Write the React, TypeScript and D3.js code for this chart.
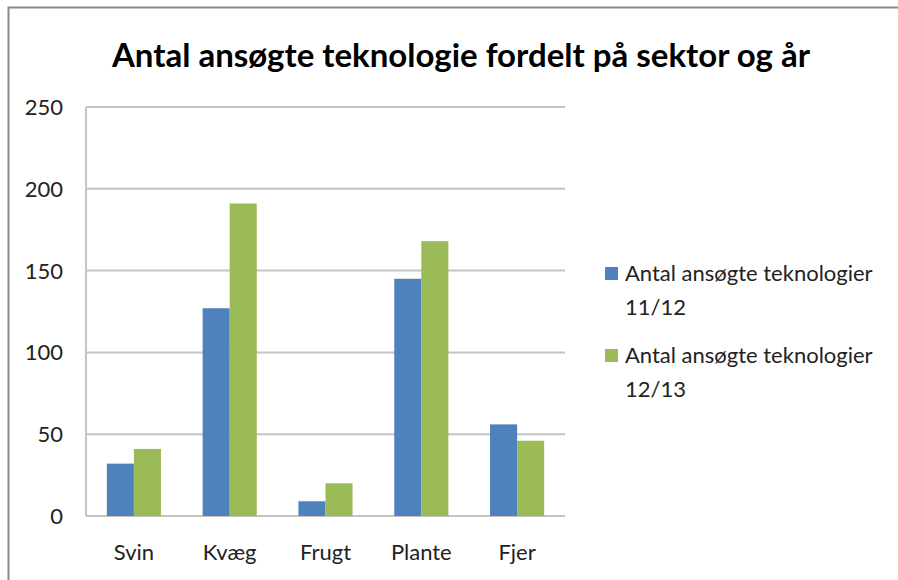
import React, { useRef, useEffect } from "react";
import * as d3 from "d3";

const categories = ["Svin", "Kvæg", "Frugt", "Plante", "Fjer"];
const seriesNames = ["Antal ansøgte teknologier 11/12", "Antal ansøgte teknologier 12/13"];
const values1112 = [32, 127, 9, 145, 56];
const values1213 = [41, 191, 20, 168, 46];
const yTicks = [0, 50, 100, 150, 200, 250];
const colors = ["#4f81bd", "#9bbb59"];

const App: React.FC = () => {
  const svg = useRef<SVGSVGElement>(null);
  const width = 898;
  const height = 580;
  const margin = { left: 86, top: 107, right: 333, bottom: 64 };

  useEffect(() => {
    const root = d3.select(svg.current);
    root.selectAll("*").remove();
    const font = "Lato, 'Open Sans', sans-serif";

    root.append("rect").attr("width", width).attr("height", height).attr("fill", "#fff");
    // chart frame
    root
      .append("path")
      .attr("d", `M8.5,${height} V7.5 H${width}`)
      .attr("fill", "none")
      .attr("stroke", "#8a8a8a")
      .attr("stroke-width", 2);

    root
      .append("text")
      .attr("x", 461)
      .attr("y", 67)
      .attr("text-anchor", "middle")
      .attr("font-family", font)
      .attr("font-weight", "bold")
      .attr("font-size", 33)
      .attr("fill", "#000")
      .text("Antal ansøgte teknologie fordelt på sektor og år");

    const innerW = width - margin.left - margin.right;
    const innerH = height - margin.top - margin.bottom;
    const g = root.append("g").attr("transform", `translate(${margin.left},${margin.top})`);

    const x0 = d3.scaleBand<string>().domain(categories).range([0, innerW]);
    const x1 = d3
      .scaleBand<number>()
      .domain([0, 1])
      .range([0, x0.bandwidth()])
      .paddingOuter(0.77);
    const y = d3.scaleLinear().domain([0, 250]).range([innerH, 0]);

    g.selectAll("line.grid")
      .data(yTicks)
      .join("line")
      .attr("class", "grid")
      .attr("x1", 0)
      .attr("x2", innerW)
      .attr("y1", (d) => y(d))
      .attr("y2", (d) => y(d))
      .attr("stroke", "#c4c4c4")
      .attr("stroke-width", 2);

    g.append("line")
      .attr("x1", 0)
      .attr("x2", 0)
      .attr("y1", 0)
      .attr("y2", innerH)
      .attr("stroke", "#c4c4c4")
      .attr("stroke-width", 2);

    g.selectAll("text.ytick")
      .data(yTicks)
      .join("text")
      .attr("class", "ytick")
      .attr("x", -23)
      .attr("y", (d) => y(d) + 8)
      .attr("text-anchor", "end")
      .attr("font-family", font)
      .attr("font-size", 22)
      .attr("fill", "#222")
      .text((d) => d);

    const series = [values1112, values1213];
    series.forEach((vals, si) => {
      g.selectAll(`rect.s${si}`)
        .data(vals)
        .join("rect")
        .attr("class", `s${si}`)
        .attr("x", (_, i) => x0(categories[i])! + x1(si)!)
        .attr("width", x1.bandwidth())
        .attr("y", (d) => y(d))
        .attr("height", (d) => innerH - y(d))
        .attr("fill", colors[si]);
    });

    g.selectAll("text.xtick")
      .data(categories)
      .join("text")
      .attr("class", "xtick")
      .attr("x", (d) => x0(d)! + x0.bandwidth() / 2)
      .attr("y", innerH + 44)
      .attr("text-anchor", "middle")
      .attr("font-family", font)
      .attr("font-size", 22)
      .attr("fill", "#222")
      .text((d) => d);

    // legend, each label wrapped onto two lines
    const legend = root.append("g").attr("transform", "translate(605,267)");
    seriesNames.forEach((name, i) => {
      const parts = name.split(" ");
      const last = parts.pop();
      const item = legend.append("g").attr("transform", `translate(0,${i * 82})`);
      item.append("rect").attr("x", 0).attr("y", 0).attr("width", 13).attr("height", 13).attr("fill", colors[i]);
      item
        .append("text")
        .attr("x", 20)
        .attr("y", 14)
        .attr("font-family", font)
        .attr("font-size", 22)
        .attr("fill", "#222")
        .text(parts.join(" "));
      item
        .append("text")
        .attr("x", 20)
        .attr("y", 48)
        .attr("font-family", font)
        .attr("font-size", 22)
        .attr("fill", "#222")
        .text(last!);
    });
  }, []);

  return (
    <svg
      ref={svg}
      width={width}
      height={height}
      style={{ position: "absolute", left: 0, top: 0, display: "block" }}
    ></svg>
  );
};

export default App;
